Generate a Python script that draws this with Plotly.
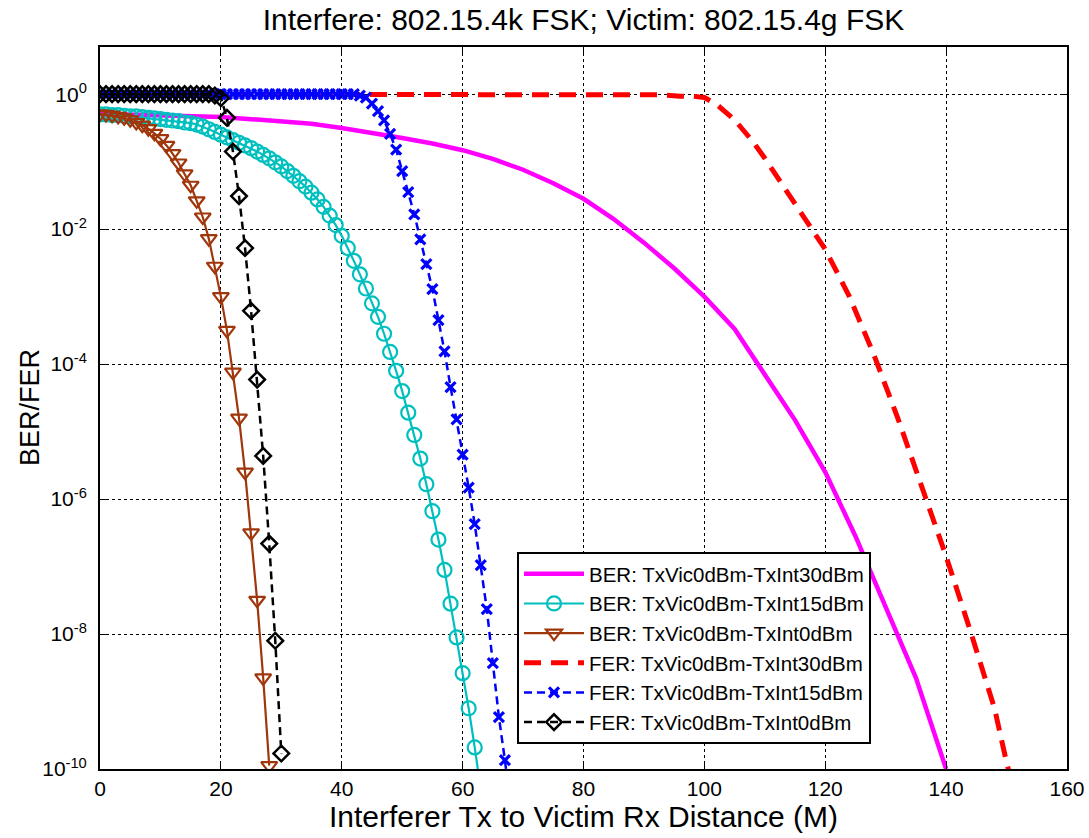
import plotly.graph_objects as go

# ---------------- data (exponents: value = 10**exp) ----------------
ber30_x = [0, 5, 10, 15, 20, 25, 30, 35, 40, 45, 50, 55, 60, 65, 70, 75, 80, 85, 90, 95,
           100, 105, 110, 115, 120, 125, 130, 135, 140]
ber30_exp = [-0.29, -0.30, -0.31, -0.32, -0.34, -0.37, -0.40, -0.44, -0.50, -0.57, -0.65, -0.73,
             -0.83, -0.96, -1.12, -1.32, -1.55, -1.85, -2.20, -2.58, -3.00, -3.48, -4.15, -4.83,
             -5.60, -6.55, -7.60, -8.65, -10.0]

ber15_x = list(range(0, 64))
ber15_exp = [-0.30, -0.30, -0.31, -0.31, -0.32, -0.33, -0.33, -0.34, -0.35, -0.36,
             -0.37, -0.38, -0.39, -0.40, -0.42, -0.43, -0.45, -0.48, -0.52, -0.56,
             -0.60, -0.64, -0.68, -0.72, -0.76, -0.80, -0.85, -0.90, -0.95, -1.01,
             -1.07, -1.14, -1.21, -1.29, -1.37, -1.46, -1.56, -1.67, -1.80, -1.94,
             -2.10, -2.28, -2.47, -2.67, -2.88, -3.10, -3.30, -3.55, -3.82, -4.10,
             -4.40, -4.72, -5.05, -5.40, -5.78, -6.18, -6.60, -7.05, -7.55, -8.05,
             -8.58, -9.10, -9.68, -10.3]

ber0_x = list(range(0, 29))
ber0_exp = [-0.29, -0.30, -0.31, -0.33, -0.35, -0.38, -0.42, -0.46, -0.51, -0.58,
            -0.66, -0.76, -0.88, -1.02, -1.18, -1.35, -1.58, -1.82, -2.14, -2.55,
            -3.00, -3.50, -4.12, -4.80, -5.60, -6.50, -7.50, -8.65, -9.95]

fer30_x = [0, 10, 20, 30, 40, 50, 60, 70, 80, 90, 93, 96, 98, 100, 102, 105, 108, 110, 113,
           116, 118, 120, 124, 128, 132, 136, 140, 144, 148, 150, 152]
fer30_exp = [0, 0, 0, 0, 0, 0, 0, 0, 0, 0, -0.01, -0.03, -0.03, -0.05, -0.15, -0.38, -0.70,
             -0.95, -1.35, -1.75, -2.00, -2.30, -3.00, -3.85, -4.80, -5.80, -6.85, -7.95,
             -9.10, -9.90, -10.6]

fer15_x = list(range(0, 69))
fer15_exp = [0] * 43 + [-0.02, -0.05, -0.14, -0.25, -0.39, -0.59, -0.82, -1.14, -1.45, -1.78,
                        -2.15, -2.52, -2.89, -3.35, -3.81, -4.34, -4.82, -5.34, -5.83, -6.37,
                        -6.98, -7.63, -8.43, -9.23, -9.87, -10.6]

fer0_x = list(range(0, 31))
fer0_exp = [0] * 19 + [-0.02, -0.06, -0.35, -0.85, -1.51, -2.28, -3.21, -4.23, -5.36, -6.66,
                       -8.10, -9.77]

names = ["BER: TxVic0dBm-TxInt30dBm", "BER: TxVic0dBm-TxInt15dBm", "BER: TxVic0dBm-TxInt0dBm",
         "FER: TxVic0dBm-TxInt30dBm", "FER: TxVic0dBm-TxInt15dBm", "FER: TxVic0dBm-TxInt0dBm"]

x_ticks = [0, 20, 40, 60, 80, 100, 120, 140, 160]
y_tick_exps = [0, -2, -4, -6, -8, -10]

# ---------------- figure ----------------
FONT = "Arial, 'Liberation Sans', Helvetica, sans-serif"
BROWN = "#A0360B"


def vals(e):
    return [10 ** v for v in e]


fig = go.Figure()
fig.add_trace(go.Scatter(x=ber30_x, y=vals(ber30_exp), name=names[0], mode="lines",
                         line=dict(color="#FF00FF", width=4.5), legendgroup="a"))
fig.add_trace(go.Scatter(x=ber15_x, y=vals(ber15_exp), name=names[1], mode="lines+markers",
                         line=dict(color="#00BFBF", width=2.2),
                         marker=dict(symbol="circle-open", size=14, color="#00BFBF",
                                     line=dict(width=2.2, color="#00BFBF")), legendgroup="b"))
fig.add_trace(go.Scatter(x=ber0_x, y=vals(ber0_exp), name=names[2], mode="lines+markers",
                         line=dict(color=BROWN, width=2.2),
                         marker=dict(symbol="triangle-down-open", size=14, color=BROWN,
                                     line=dict(width=2.2, color=BROWN)), legendgroup="c"))
fig.add_trace(go.Scatter(x=fer30_x, y=vals(fer30_exp), name=names[3], mode="lines",
                         line=dict(color="#FF0000", width=5, dash="17px,10px"), legendgroup="d"))
fig.add_trace(go.Scatter(x=fer15_x, y=vals(fer15_exp), name=names[4], mode="lines+markers",
                         line=dict(color="#0000FF", width=2.5, dash="8px,5px"),
                         marker=dict(symbol="x-thin", size=10, color="#0000FF",
                                     line=dict(width=3.2, color="#0000FF")), legendgroup="e"))
fig.add_trace(go.Scatter(x=fer0_x, y=vals(fer0_exp), name=names[5], mode="lines+markers",
                         line=dict(color="#000000", width=2.5, dash="8px,5px"),
                         marker=dict(symbol="diamond-open", size=12, color="#000000",
                                     line=dict(width=2.5, color="#000000")), legendgroup="f"))

W, H = 1089, 838
L, R, T, B = 100, 22, 47, 69
PW = W - L - R

fig.update_layout(
    width=W, height=H,
    margin=dict(l=L, r=R, t=T, b=B, autoexpand=False),
    paper_bgcolor="white", plot_bgcolor="white",
    font=dict(family=FONT, color="black", size=21),
    title=dict(text="Interfere: 802.15.4k FSK; Victim: 802.15.4g FSK",
               x=0.5, xref="paper", xanchor="center",
               y=1 - 19 / H, yref="container", yanchor="middle",
               font=dict(size=30, family=FONT, color="black")),
    showlegend=True,
    legend=dict(x=(517 - L) / PW, y=(H - B - 552) / (H - T - B),
                xanchor="left", yanchor="top", bgcolor="white",
                bordercolor="black", borderwidth=2,
                font=dict(size=20.5, family=FONT, color="black"),
                tracegroupgap=0, itemwidth=60),
    annotations=[dict(text="BER/FER", textangle=-90, showarrow=False,
                      xref="paper", yref="paper", x=(30 - L) / PW, y=0.5,
                      xanchor="center", yanchor="middle",
                      font=dict(size=27, family=FONT, color="black"))],
)

fig.update_xaxes(range=[0, 160], tickvals=x_ticks, ticktext=[str(t) for t in x_ticks],
                 showline=True, linecolor="black", linewidth=2, mirror="ticks",
                 ticks="inside", ticklen=6, tickcolor="black", tickwidth=1,
                 showgrid=True, gridcolor="black", gridwidth=1, griddash="dot",
                 zeroline=False, tickfont=dict(size=21, family=FONT),
                 title=dict(text="Interferer Tx to Victim Rx Distance (M)",
                            font=dict(size=30, family=FONT), standoff=4))
fig.update_yaxes(type="log", range=[-10, 0.699],
                 tickvals=[10 ** e for e in y_tick_exps],
                 ticktext=["10<sup>%d</sup>" % e for e in y_tick_exps],
                 showline=True, linecolor="black", linewidth=2, mirror="ticks",
                 ticks="inside", ticklen=6, tickcolor="black", tickwidth=1,
                 ticklabelstandoff=7,
                 showgrid=True, gridcolor="black", gridwidth=1, griddash="dot",
                 zeroline=False, tickfont=dict(size=21, family=FONT))

fig.write_html("out.html", post_script="document.body.style.margin='0';",
               config={"displayModeBar": False})
